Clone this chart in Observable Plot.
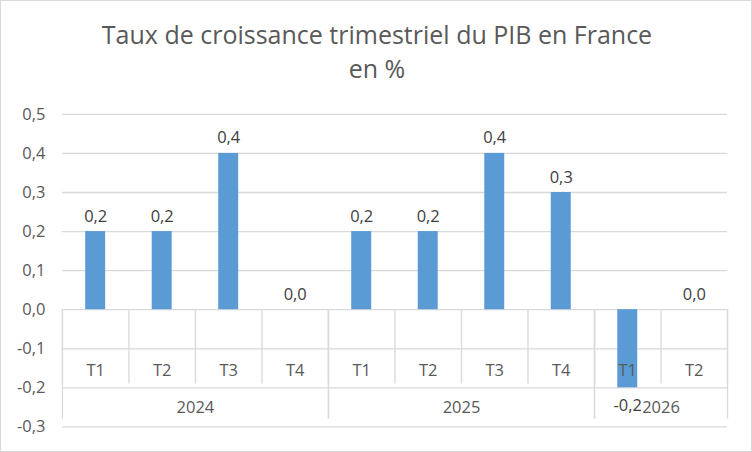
<!DOCTYPE html>
<html>
<head>
<meta charset="utf-8">
<script src="https://cdn.jsdelivr.net/npm/d3@7"></script>
<script src="https://cdn.jsdelivr.net/npm/@observablehq/plot@0.6"></script>
<style>
  html, body { margin: 0; padding: 0; background: #fff; }
  #wrap { position: relative; width: 750px; height: 450px; border: 1px solid #d9d9d9; background: #fff; overflow: hidden; }
  #title { position: absolute; left: 0; top: 16px; width: 752px; text-align: center; font-family: "Open Sans", sans-serif; font-size: 25px; line-height: 34px; color: #595959; }
  #chart { position: absolute; left: -1px; top: -1px; }
</style>
</head>
<body>
<div id="wrap">
  <div id="chart"></div>
  <div id="title">Taux de croissance trimestriel du PIB en France<br>en %</div>
</div>
<script>
const years = ["2024","2024","2024","2024","2025","2025","2025","2025","2026","2026"];
const quarters = ["T1","T2","T3","T4","T1","T2","T3","T4","T1","T2"];
const values = [0.2, 0.2, 0.4, 0.0, 0.2, 0.2, 0.4, 0.3, -0.2, 0.0];
const yTicks = [-0.3, -0.2, -0.1, 0.0, 0.1, 0.2, 0.3, 0.4, 0.5];

const data = values.map((v, i) => ({i, year: years[i], quarter: quarters[i], value: v}));
const groups = [];
years.forEach((y, i) => {
  const g = groups.find(g => g.year === y);
  if (g) g.end = i + 1; else groups.push({year: y, start: i, end: i + 1});
});
const fmt = v => d3.format(".1f")(v).replace(".", ",").replace("−", "-");

const font = "'Open Sans', sans-serif";
const grid = "#d9d9d9";
const chart = Plot.plot({
  width: 752,
  height: 452,
  marginLeft: 62,
  marginRight: 24,
  marginTop: 114,
  marginBottom: 25,
  style: {fontFamily: font, fontSize: "16.5px", color: "#595959", background: "transparent"},
  x: {domain: [0, values.length], axis: null},
  y: {domain: [-0.3, 0.5], ticks: yTicks, tickFormat: fmt, tickSize: 0, tickPadding: 17, label: null},
  marks: [
    Plot.ruleY(yTicks, {stroke: grid, strokeWidth: 1.3}),
    Plot.ruleX(data, {x: d => d.i, y1: 0, y2: -0.19, stroke: grid, strokeWidth: 1.3}),
    Plot.ruleX(groups.flatMap(g => [g.start, g.end]), {y1: 0, y2: -0.28, stroke: grid, strokeWidth: 1.3}),
    Plot.ruleX([values.length], {y1: 0, y2: -0.19, stroke: grid, strokeWidth: 1.3}),
    Plot.rectY(data, {x1: "i", x2: d => d.i + 1, y1: 0, y2: "value", fill: "#5b9bd5", insetLeft: 23.3, insetRight: 23.3}),
    Plot.text(data, {x: d => d.i + 0.5, y: -0.155, text: "quarter", fill: "#595959", fontSize: 16.5}),
    Plot.text(groups, {x: d => (d.start + d.end) / 2, y: -0.25, text: "year", fill: "#595959", fontSize: 16.5}),
    Plot.text(data, {x: d => d.i + 0.5, y: "value", text: d => fmt(d.value), fill: "#404040", fontSize: 16.5,
      filter: d => d.value >= 0, lineAnchor: "bottom", dy: -10}),
    Plot.text(data, {x: d => d.i + 0.5, y: "value", text: d => fmt(d.value), fill: "#404040", fontSize: 16.5,
      filter: d => d.value < 0, lineAnchor: "top", dy: 11})
  ]
});
document.getElementById("chart").appendChild(chart);
</script>
</body>
</html>
